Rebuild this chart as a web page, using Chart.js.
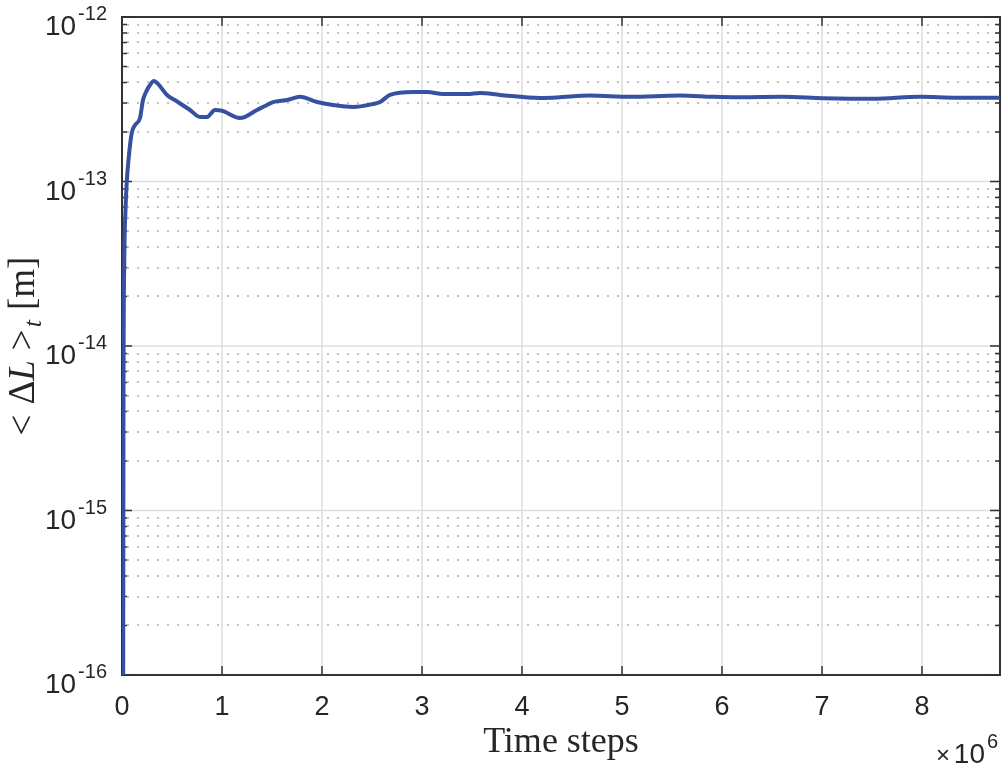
<!DOCTYPE html>
<html>
<head>
<meta charset="utf-8">
<script src="https://cdn.jsdelivr.net/npm/chart.js@4.4.1/dist/chart.umd.min.js"></script>
<style>
  html, body { margin: 0; padding: 0; background: #fff; }
  #wrap { width: 1002px; height: 770px; }
</style>
</head>
<body>
<div id="wrap"><canvas id="c" width="1002" height="770"></canvas></div>
<script>
// time steps, in units of 1e6 (axis shows x10^6)
const steps = [
  0.012, 0.015, 0.023, 0.035, 0.047, 0.065, 0.097, 0.13, 0.18, 0.21,
  0.24, 0.28, 0.32, 0.36, 0.45, 0.56, 0.68, 0.78, 0.85, 0.93,
  1.0, 1.18, 1.35, 1.43, 1.51, 1.65, 1.78, 1.95, 2.11, 2.31,
  2.51, 2.58, 2.68, 2.91, 3.05, 3.21, 3.45, 3.58, 3.78, 4.18,
  4.35, 4.68, 5.08, 5.58, 5.91, 6.18, 6.61, 7.01, 7.51, 7.98,
  8.35, 8.78
];
// <dL>_t in metres
const meanDL = [
  1e-16, 4.7e-15, 3.3e-14, 6.7e-14, 9.8e-14, 1.35e-13, 1.97e-13, 2.2e-13, 2.43e-13, 3.13e-13,
  3.5e-13, 3.86e-13, 4.08e-13, 3.92e-13, 3.36e-13, 3.04e-13, 2.72e-13, 2.47e-13, 2.47e-13, 2.72e-13,
  2.69e-13, 2.43e-13, 2.72e-13, 2.88e-13, 3.04e-13, 3.13e-13, 3.27e-13, 3.04e-13, 2.92e-13, 2.84e-13,
  2.96e-13, 3.04e-13, 3.36e-13, 3.5e-13, 3.5e-13, 3.4e-13, 3.4e-13, 3.45e-13, 3.36e-13, 3.22e-13,
  3.24e-13, 3.33e-13, 3.27e-13, 3.33e-13, 3.27e-13, 3.25e-13, 3.27e-13, 3.21e-13, 3.18e-13, 3.27e-13,
  3.23e-13, 3.23e-13
];

const xTicks = [0, 1, 2, 3, 4, 5, 6, 7, 8];
const yExponents = [-16, -15, -14, -13, -12];
const minorMult = [2, 3, 4, 5, 6, 7, 8, 9];

const axisColor = '#333333';
const labelColor = '#262626';
const sans = '"Liberation Sans", Arial, sans-serif';
const serif = '"Liberation Serif", "Times New Roman", serif';

// MATLAB-style box, grid, inward ticks and labels
const matlabAxes = {
  id: 'matlabAxes',
  beforeDatasetsDraw(chart) {
    const { ctx, chartArea: a, scales: { x, y } } = chart;
    ctx.save();

    // minor dotted horizontal grid
    ctx.strokeStyle = '#c2c2c2';
    ctx.lineWidth = 2;
    ctx.setLineDash([2, 8]);
    for (let i = 0; i < yExponents.length - 1; i++) {
      for (const m of minorMult) {
        const py = Math.round(y.getPixelForValue(m * Math.pow(10, yExponents[i])));
        ctx.beginPath(); ctx.moveTo(a.left + 5, py); ctx.lineTo(a.right, py); ctx.stroke();
      }
    }

    // major grid
    ctx.setLineDash([]);
    ctx.strokeStyle = '#dedede';
    ctx.lineWidth = 1.5;
    for (const t of xTicks) {
      const px = x.getPixelForValue(t);
      ctx.beginPath(); ctx.moveTo(px, a.top); ctx.lineTo(px, a.bottom); ctx.stroke();
    }
    for (const e of yExponents) {
      const py = y.getPixelForValue(Math.pow(10, e));
      ctx.beginPath(); ctx.moveTo(a.left, py); ctx.lineTo(a.right, py); ctx.stroke();
    }

    // box
    ctx.strokeStyle = axisColor;
    ctx.lineWidth = 2;
    ctx.strokeRect(a.left, a.top, a.right - a.left, a.bottom - a.top);

    // ticks
    ctx.lineWidth = 1.5;
    for (const t of xTicks) {
      const px = x.getPixelForValue(t);
      ctx.beginPath();
      ctx.moveTo(px, a.bottom); ctx.lineTo(px, a.bottom - 9);
      ctx.moveTo(px, a.top); ctx.lineTo(px, a.top + 9);
      ctx.stroke();
    }
    for (let i = 0; i < yExponents.length; i++) {
      const py = y.getPixelForValue(Math.pow(10, yExponents[i]));
      ctx.beginPath();
      ctx.moveTo(a.left, py); ctx.lineTo(a.left + 10, py);
      ctx.moveTo(a.right, py); ctx.lineTo(a.right - 10, py);
      ctx.stroke();
      if (i === yExponents.length - 1) continue;
      for (const m of minorMult) {
        const pm = y.getPixelForValue(m * Math.pow(10, yExponents[i]));
        ctx.beginPath();
        ctx.moveTo(a.left, pm); ctx.lineTo(a.left + 5, pm);
        ctx.moveTo(a.right, pm); ctx.lineTo(a.right - 5, pm);
        ctx.stroke();
      }
    }
    ctx.restore();
  },
  afterDraw(chart) {
    const { ctx, chartArea: a, scales: { x, y } } = chart;
    ctx.save();
    ctx.fillStyle = labelColor;

    // x tick labels
    ctx.font = '27px ' + sans;
    ctx.textAlign = 'center';
    ctx.textBaseline = 'alphabetic';
    for (const t of xTicks) {
      ctx.fillText(String(t), x.getPixelForValue(t), a.bottom + 40);
    }

    // y tick labels 10^e
    const labelRight = a.left - 15;
    for (const e of yExponents) {
      const py = y.getPixelForValue(Math.pow(10, e));
      ctx.font = '20px ' + sans;
      ctx.textAlign = 'right';
      const sup = String(e);
      const supW = ctx.measureText(sup).width;
      ctx.fillText(sup, labelRight, py + 3);
      ctx.font = '28px ' + sans;
      ctx.fillText('10', labelRight - supW - 2, py + 18);
    }

    // x10^6 exponent
    ctx.textAlign = 'right';
    ctx.font = '28px ' + sans;
    ctx.fillText('10', 985, 763);
    ctx.font = '24px ' + sans;
    ctx.fillText('\u00d7', 950, 763);
    ctx.textAlign = 'left';
    ctx.font = '20px ' + sans;
    ctx.fillText('6', 987, 748);

    // x title
    ctx.textAlign = 'center';
    ctx.font = '36px ' + serif;
    ctx.fillText('Time steps', (a.left + a.right) / 2, 752);

    // y title  < ΔL >_t [m]
    const parts = [
      { t: '<', f: '37px ' + serif, dy: 0, gap: 10 },
      { t: '\u0394', f: '37px ' + serif, dy: 0, gap: 0 },
      { t: 'L', f: 'italic 37px ' + serif, dy: 0, gap: 10 },
      { t: '>', f: '37px ' + serif, dy: 0, gap: 2 },
      { t: 't', f: 'italic 26px ' + serif, dy: 7, gap: 10 },
      { t: '[m]', f: '37px ' + serif, dy: 0, gap: 0 }
    ];
    let total = 0;
    for (const p of parts) { ctx.font = p.f; p.w = ctx.measureText(p.t).width; total += p.w + p.gap; }
    ctx.translate(34, (a.top + a.bottom) / 2);
    ctx.rotate(-Math.PI / 2);
    ctx.textAlign = 'left';
    let cx = -total / 2;
    for (const p of parts) {
      ctx.font = p.f;
      ctx.fillText(p.t, cx, p.dy);
      cx += p.w + p.gap;
    }
    ctx.restore();
  }
};

new Chart(document.getElementById('c'), {
  type: 'line',
  data: {
    datasets: [{
      data: steps.map((s, i) => ({ x: s, y: meanDL[i] })),
      borderColor: '#3751a1',
      borderWidth: 4,
      pointRadius: 0,
      cubicInterpolationMode: 'monotone',
      fill: false
    }]
  },
  options: {
    responsive: false,
    devicePixelRatio: 1,
    animation: false,
    layout: { padding: { left: 122, right: 2, top: 17, bottom: 95 } },
    plugins: { legend: { display: false }, tooltip: { enabled: false } },
    scales: {
      x: { type: 'linear', min: 0, max: 8.78, display: false },
      y: { type: 'logarithmic', min: 1e-16, max: 1e-12, display: false }
    }
  },
  plugins: [matlabAxes]
});
</script>
</body>
</html>
